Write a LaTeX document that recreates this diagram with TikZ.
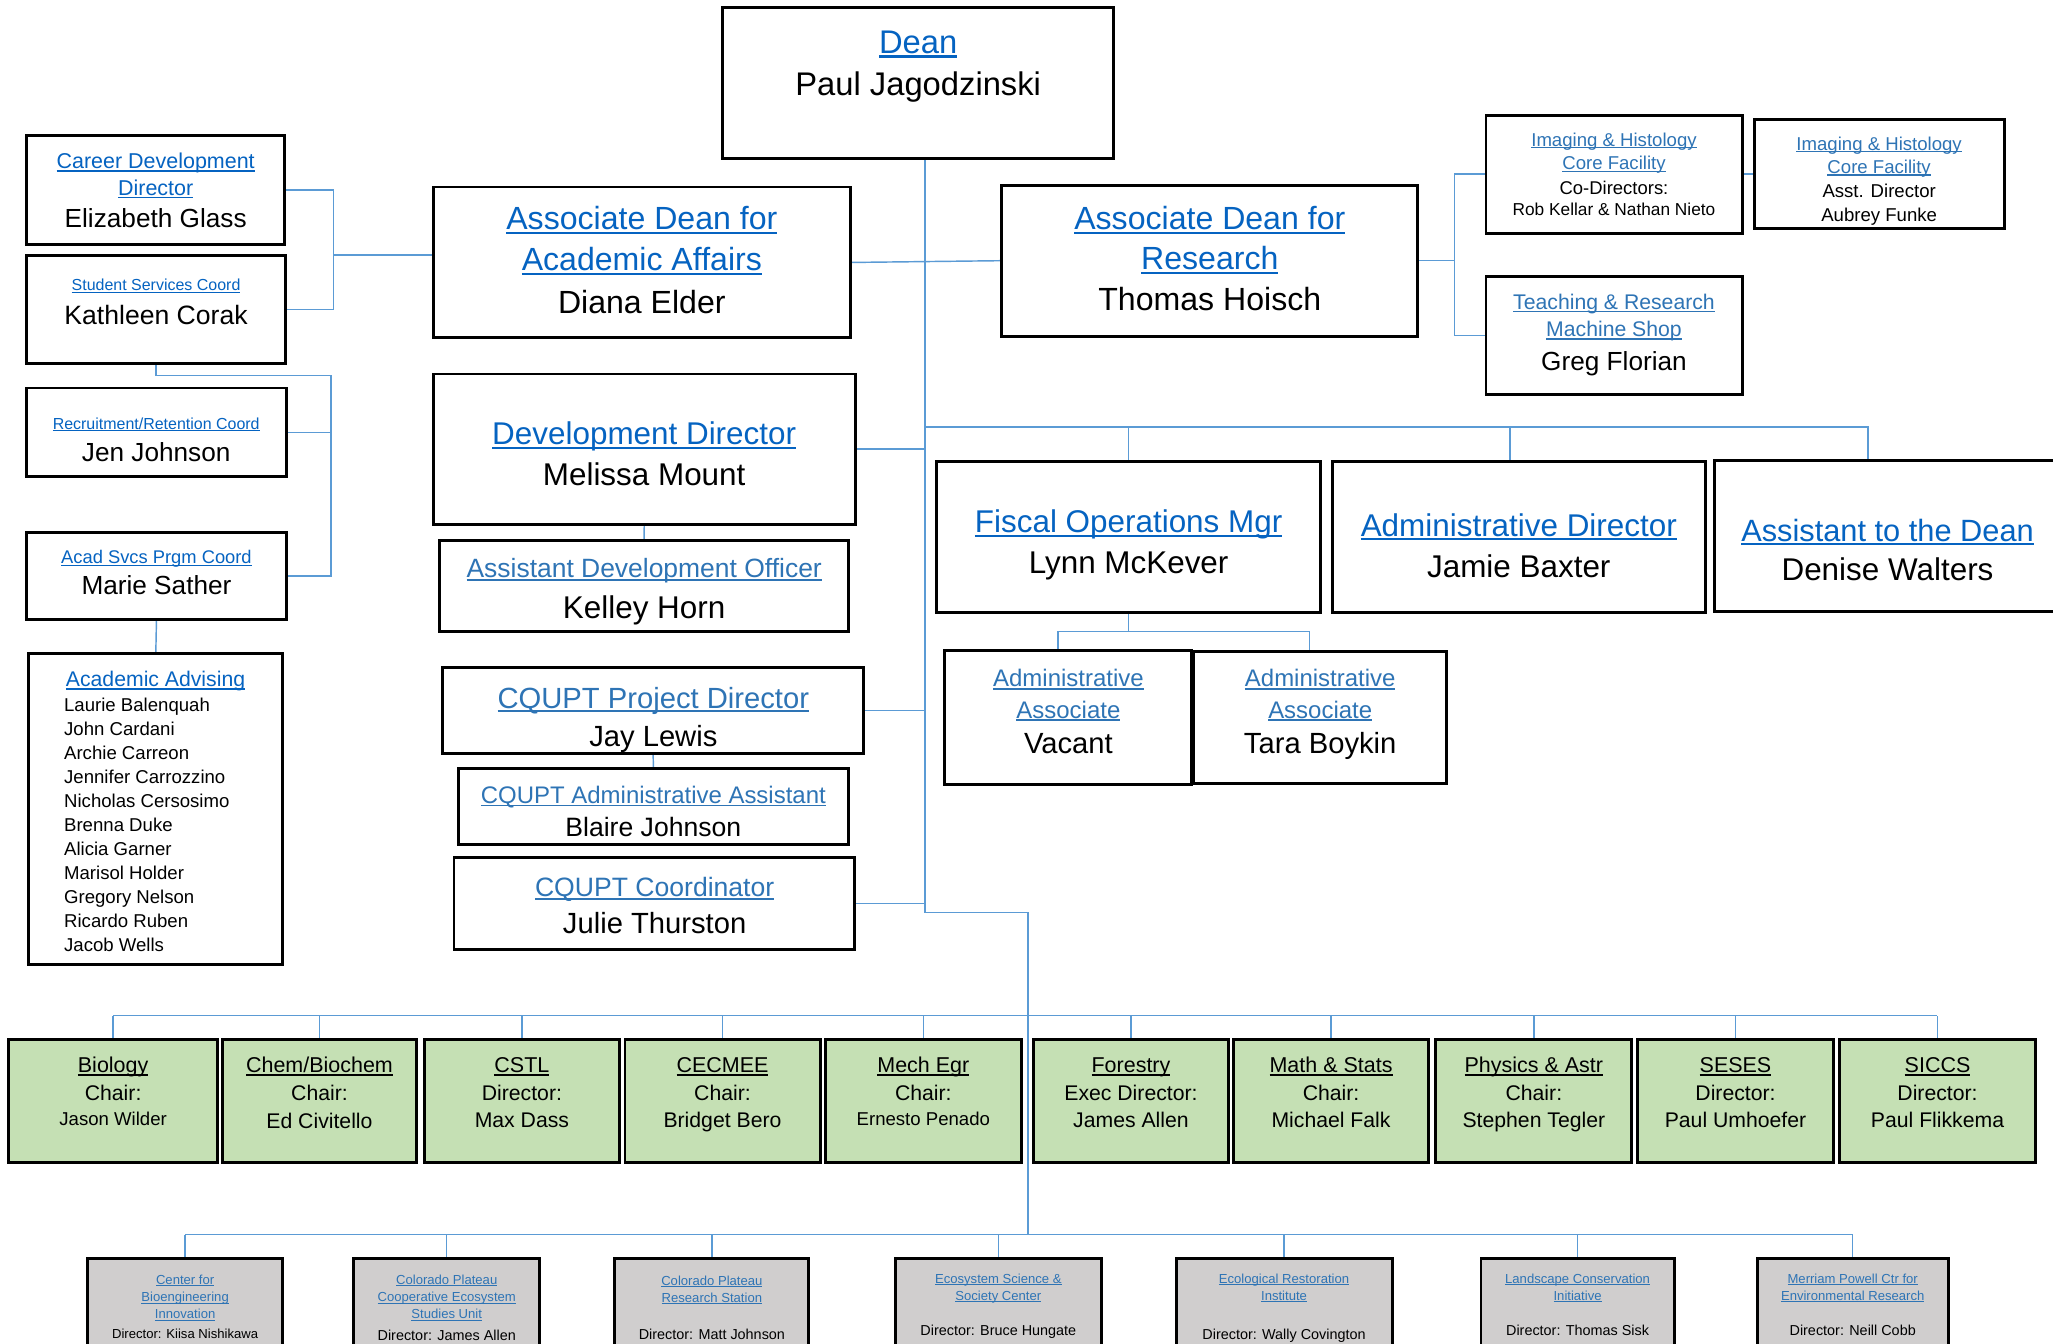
\documentclass[tikz,border=0pt]{standalone}
\usepackage{fontspec}
\setmainfont{Liberation Sans}
\definecolor{lnk}{HTML}{0563C1}
\definecolor{lnkb}{HTML}{2E74B5}
\definecolor{lncol}{HTML}{5B9BD5}
\definecolor{grn}{HTML}{C5E0B4}
\definecolor{gry}{HTML}{D0CECE}
\newcommand\ulx[1]{\setbox0=\hbox{#1}\rlap{\rule[-0.13em]{\wd0}{0.07em}}\box0}
\newcommand\mybox[6]{\node[boxst,#6,minimum width={#4-#2},minimum height={#5-#3}] (#1) at ({(#2+#4)/2},{(#3+#5)/2}) {};}
\newcommand\mytx[6]{\node[txst,#1,font=\fontsize{#5}{#5}\selectfont] (#2) at (#3,{#4+0.36*#5}) {#6};}
\newcommand\dept[5]{%
  \mytx{}{#1t1}{#2}{813.4}{16.4}{\ulx{#3}}
  \mytx{}{#1t2}{#2}{834.6}{16.2}{#4}
  #5}
\tikzset{
  boxst/.style={draw=black, line width=1.5pt, fill=white, inner sep=0pt, rectangle},
  grnbox/.style={fill=grn},
  grybox/.style={fill=gry},
  txst/.style={anchor=base, inner sep=0pt, text=black},
  bl/.style={text=lnk},
  blb/.style={text=lnkb},
  cl/.style={draw=lncol, line width=1.1pt},
}
\begin{document}
\begin{tikzpicture}[x=1pt,y=-1pt]
\useasboundingbox (0,0) rectangle (1568,1026);
\clip (0,0) rectangle (1568,1026);
\fill[white] (0,0) rectangle (1568,1026);

% ---------- boxes ----------
\mybox{dean}{552.4}{6.4}{850.1}{120.4}{}
\mybox{cdd}{20.5}{103.6}{217.2}{186.6}{}
\mybox{ssc}{20.5}{195.5}{217.9}{277.5}{}
\mybox{rrc}{20.5}{296.7}{218.2}{363.9}{}
\mybox{asp}{20.5}{407.2}{218.5}{472.9}{}
\mybox{adv}{22.5}{499.5}{215.5}{736.6}{}
\mybox{aaa}{331.4}{143.2}{648.9}{257.7}{}
\mybox{adr}{765.5}{141.8}{1082.3}{256.4}{}
\mybox{img1}{1135.3}{88.3}{1330.3}{177.7}{}
\mybox{img2}{1340.2}{91.7}{1530.3}{174.4}{}
\mybox{trm}{1135.3}{211.3}{1330.3}{300.9}{}
\mybox{dev}{331.4}{286}{652.7}{400.1}{}
\mybox{ado}{335.8}{413}{648}{482}{}
\mybox{cpd}{338.2}{510}{659.4}{575.2}{}
\mybox{caa}{350.2}{587.5}{648}{644.5}{}
\mybox{cco}{347.1}{655.6}{652.5}{724.9}{}
\mybox{fom}{715.8}{352.9}{1008.1}{467.7}{}
\mybox{adm}{1017.9}{352.6}{1302.2}{467.2}{}
\mybox{atd}{1309.7}{352.1}{1590}{466.7}{}
\mybox{aaone}{722}{497}{909.5}{599}{}
\mybox{aatwo}{911.9}{497.8}{1104.7}{598.2}{}

\mybox{bio}{7.2}{794}{165.7}{887.7}{grnbox}
\mybox{chem}{170}{794}{318}{887.7}{grnbox}
\mybox{cstl}{324.6}{794}{472.6}{887.7}{grnbox}
\mybox{cec}{477.7}{794}{626}{887.7}{grnbox}
\mybox{mech}{631}{794}{779.5}{887.7}{grnbox}
\mybox{fore}{789.4}{794}{938.1}{887.7}{grnbox}
\mybox{math}{942.3}{794}{1091}{887.7}{grnbox}
\mybox{phys}{1097}{794}{1246}{887.7}{grnbox}
\mybox{ses}{1251}{794}{1400}{887.7}{grnbox}
\mybox{sic}{1405.5}{794}{1554}{887.7}{grnbox}

\mybox{cbi}{67.5}{961.6}{215.3}{1045}{grybox}
\mybox{cesu}{270.6}{961.6}{411.7}{1045}{grybox}
\mybox{cprs}{470}{961.6}{617.3}{1045}{grybox}
\mybox{essc}{684.3}{961.6}{840.7}{1045}{grybox}
\mybox{eri}{898.6}{961.6}{1062.8}{1045}{grybox}
\mybox{lci}{1131.5}{961.6}{1278.3}{1045}{grybox}
\mybox{mpc}{1342.4}{961.6}{1487.5}{1045}{grybox}

% ---------- connectors ----------
\coordinate (jL) at (254.7,194.8);
\draw[cl] (cdd.east) -- (cdd.east -| jL) -- (ssc.east -| jL) -- (ssc.east);
\draw[cl] (jL) -- (jL -| aaa.west);
\coordinate (jS) at (252.7,286.9);
\draw[cl] (ssc.south) |- (jS) |- (asp.east);
\draw[cl] (rrc.east) -- (rrc.east -| jS);
\draw[cl] (asp.south) -- (adv.north);

\coordinate (jD) at (706.5,697.1);
\coordinate (jB) at (785,943);
\draw[cl] (dean.south -| jD) -- (jD) -| (jB);
\draw[cl] (aaa.east) -- (adr.west);
\coordinate (jR) at (1110.7,199);
\draw[cl] (adr.east) -- (adr.east -| jR);
\draw[cl] (img1.west) -- (img1.west -| jR) -- (trm.west -| jR) -- (trm.west);
\draw[cl] (img1.east) -- (img1.east -| img2.west);
\draw[cl] (dev.east) -- (dev.east -| jD);
\draw[cl] (dev.south) -- (ado.north);
\draw[cl] (cpd.east) -- (cpd.east -| jD);
\draw[cl] (cpd.south) -- (caa.north);
\draw[cl] (cco.east) -- (cco.east -| jD);

\coordinate (jT) at (706.5,326.2);
\coordinate (jTe) at (1426.8,326.2);
\draw[cl] (jT) -- (jTe) -- (jTe |- atd.north);
\draw[cl] (fom.north) -- (fom.north |- jT);
\draw[cl] ([xshift=-6.7pt]adm.north) -- ([xshift=-6.7pt]adm.north |- jT);

\coordinate (jFa) at (808.2,482.5);
\coordinate (jFb) at (1000.3,482.5);
\draw[cl] (fom.south) -- (fom.south |- jFa);
\draw[cl] (jFa |- aaone.north) -- (jFa) -- (jFb) -- (jFb |- aatwo.north);

\coordinate (jC) at (785,775.7);
\draw[cl] (bio.north |- jC) -- (sic.north |- jC);
\foreach \d in {bio,chem,cstl,cec,mech,fore,math,phys,ses,sic}
  \draw[cl] (\d.north) -- (\d.north |- jC);

\draw[cl] (cbi.north |- jB) -- (mpc.north |- jB);
\foreach \d in {cbi,cesu,cprs,essc,eri,lci,mpc}
  \draw[cl] (\d.north) -- (\d.north |- jB);

% box borders over connectors
\foreach \b in {dean,cdd,ssc,rrc,asp,adv,aaa,adr,img1,img2,trm,dev,ado,cpd,caa,cco,fom,adm,atd,aaone,aatwo,bio,chem,cstl,cec,mech,fore,math,phys,ses,sic,cbi,cesu,cprs,essc,eri,lci,mpc}
  \draw[black, line width=1.5pt] (\b.north west) rectangle (\b.south east);

% ---------- texts ----------
\mytx{bl}{deant}{701.3}{31.8}{25}{\ulx{Dean}}
\mytx{}{deann}{701.3}{63.6}{25}{Paul Jagodzinski}

\mytx{bl}{aaat1}{490.2}{166.8}{24.5}{\ulx{Associate Dean for}}
\mytx{bl}{aaat2}{490.2}{198}{24.5}{\ulx{Academic Affairs}}
\mytx{}{aaan}{490.2}{230.4}{24.5}{Diana Elder}

\mytx{bl}{adrt1}{924}{166.8}{24.5}{\ulx{Associate Dean for}}
\mytx{bl}{adrt2}{924}{197.3}{24.5}{\ulx{Research}}
\mytx{}{adrn}{924}{228.5}{24.5}{Thomas Hoisch}

\mytx{bl}{cddt1}{118.9}{123}{16.4}{\ulx{Career Development}}
\mytx{bl}{cddt2}{118.9}{143.3}{16.4}{\ulx{Director}}
\mytx{}{cddn}{118.9}{166.8}{20}{Elizabeth Glass}

\mytx{bl}{ssct}{119.2}{217.7}{12.2}{\ulx{Student Services Coord}}
\mytx{}{sscn}{119.2}{240.6}{20.3}{Kathleen Corak}

\mytx{bl}{rrct}{119.3}{323.3}{12.2}{\ulx{Recruitment/Retention Coord}}
\mytx{}{rrcn}{119.3}{344.9}{20}{Jen Johnson}

\mytx{bl}{aspt}{119.5}{425.3}{14}{\ulx{Acad Svcs Prgm Coord}}
\mytx{}{aspn}{119.5}{446.6}{20}{Marie Sather}

\mytx{bl}{advt}{118.8}{518.8}{16.2}{\ulx{Academic Advising}}
\foreach \nm [count=\i from 0] in {Laurie Balenquah,John Cardani,Archie Carreon,Jennifer Carrozzino,Nicholas Cersosimo,Brenna Duke,Alicia Garner,Marisol Holder,Gregory Nelson,Ricardo Ruben,Jacob Wells}
  \node[txst,anchor=base west,font=\fontsize{14.2}{14.2}\selectfont] (advn\i) at (48.8,{538.1+18.33*\i+0.36*14.2}) {\nm};

\mytx{blb}{imgat1}{1232.7}{106.4}{14.2}{\ulx{Imaging \& Histology}}
\mytx{blb}{imgat2}{1232.7}{124.7}{14.2}{\ulx{Core Facility}}
\mytx{}{imgan1}{1232.7}{143.1}{14.1}{Co-Directors:}
\mytx{}{imgan2}{1232.7}{159.9}{13.2}{Rob Kellar \& Nathan Nieto}

\mytx{blb}{imgbt1}{1435.2}{109.5}{14.2}{\ulx{Imaging \& Histology}}
\mytx{blb}{imgbt2}{1435.2}{127.3}{14.2}{\ulx{Core Facility}}
\mytx{}{imgbn1}{1435.2}{145.6}{14.2}{Asst. Director}
\mytx{}{imgbn2}{1435.2}{164.2}{14.2}{Aubrey Funke}

\mytx{blb}{trmt1}{1232.7}{230.4}{16.2}{\ulx{Teaching \& Research}}
\mytx{blb}{trmt2}{1232.7}{251.5}{16.2}{\ulx{Machine Shop}}
\mytx{}{trmn}{1232.7}{275.7}{20}{Greg Florian}

\mytx{bl}{devt}{492}{331}{24}{\ulx{Development Director}}
\mytx{}{devn}{492}{362}{24}{Melissa Mount}

\mytx{blb}{adot}{492}{434}{20.2}{\ulx{Assistant Development Officer}}
\mytx{}{adon}{492}{463.6}{24}{Kelley Horn}

\mytx{blb}{cpdt}{499}{532.8}{22.3}{\ulx{CQUPT Project Director}}
\mytx{}{cpdn}{499}{562}{22.3}{Jay Lewis}

\mytx{blb}{caat}{499}{606.8}{18.3}{\ulx{CQUPT Administrative Assistant}}
\mytx{}{caan}{499}{631.3}{20.3}{Blaire Johnson}

\mytx{blb}{ccot}{500}{677.5}{20.3}{\ulx{CQUPT Coordinator}}
\mytx{}{ccon}{500}{704.7}{22.3}{Julie Thurston}

\mytx{bl}{fomt}{862}{398.4}{24}{\ulx{Fiscal Operations Mgr}}
\mytx{}{fomn}{862}{429.5}{24}{Lynn McKever}

\mytx{bl}{admt}{1160}{401}{24}{\ulx{Administrative Director}}
\mytx{}{admn}{1160}{432.8}{24}{Jamie Baxter}

\mytx{bl}{atdt}{1441.6}{404.8}{23.5}{\ulx{Assistant to the Dean}}
\mytx{}{atdn}{1441.6}{434.8}{24}{Denise Walters}

\mytx{blb}{aaonet1}{816}{518.1}{18.3}{\ulx{Administrative}}
\mytx{blb}{aaonet2}{816}{541.8}{18.3}{\ulx{Associate}}
\mytx{}{aaonen}{816}{567.7}{22.3}{Vacant}

\mytx{blb}{aatwot1}{1008.3}{518.1}{18.3}{\ulx{Administrative}}
\mytx{blb}{aatwot2}{1008.3}{541.8}{18.3}{\ulx{Associate}}
\mytx{}{aatwon}{1008.3}{567.7}{22.3}{Tara Boykin}

% departments
\dept{bio}{86.4}{Biology}{Chair:}{\mytx{}{bion}{86.4}{854.2}{14.2}{Jason Wilder}}
\dept{chem}{244}{Chem/Biochem}{Chair:}{\mytx{}{chemn}{244}{856}{16.2}{Ed Civitello}}
\dept{cstl}{398.6}{CSTL}{Director:}{\mytx{}{cstln}{398.6}{855}{16.2}{Max Dass}}
\dept{cec}{551.8}{CECMEE}{Chair:}{\mytx{}{cecn}{551.8}{855}{16.2}{Bridget Bero}}
\dept{mech}{705.2}{Mech Egr}{Chair:}{\mytx{}{mechn}{705.2}{854.2}{14.2}{Ernesto Penado}}
\dept{fore}{863.8}{Forestry}{Exec Director:}{\mytx{}{foren}{863.8}{855}{16.2}{James Allen}}
\dept{math}{1016.6}{Math \& Stats}{Chair:}{\mytx{}{mathn}{1016.6}{855}{16.2}{Michael Falk}}
\dept{phys}{1171.5}{Physics \& Astr}{Chair:}{\mytx{}{physn}{1171.5}{855}{16.2}{Stephen Tegler}}
\dept{ses}{1325.5}{SESES}{Director:}{\mytx{}{sesn}{1325.5}{855}{16.2}{Paul Umhoefer}}
\dept{sic}{1479.8}{SICCS}{Director:}{\mytx{}{sicn}{1479.8}{855}{16.2}{Paul Flikkema}}

% centers
\mytx{blb}{cbit1}{141.4}{977.1}{10}{\ulx{Center for}}
\mytx{blb}{cbit2}{141.4}{990.6}{10}{\ulx{Bioengineering}}
\mytx{blb}{cbit3}{141.4}{1003.6}{10}{\ulx{Innovation}}
\mytx{}{cbin}{141.4}{1018.9}{10}{Director: Kiisa Nishikawa}

\mytx{blb}{cesut1}{341.2}{977.1}{10}{\ulx{Colorado Plateau}}
\mytx{blb}{cesut2}{341.2}{990.6}{10}{\ulx{Cooperative Ecosystem}}
\mytx{blb}{cesut3}{341.2}{1003.6}{10}{\ulx{Studies Unit}}
\mytx{}{cesun}{341.2}{1019.6}{11}{Director: James Allen}

\mytx{blb}{cprst1}{543.7}{978.1}{10}{\ulx{Colorado Plateau}}
\mytx{blb}{cprst2}{543.7}{991.1}{10}{\ulx{Research Station}}
\mytx{}{cprsn}{543.7}{1018.9}{11}{Director: Matt Johnson}

\mytx{blb}{nessct1}{762.5}{976.6}{10}{\ulx{Ecosystem Science \&}}
\mytx{blb}{nessct2}{762.5}{989.8}{10}{\ulx{Society Center}}
\mytx{}{esscn}{762.5}{1016.3}{11}{Director: Bruce Hungate}

\mytx{blb}{erit1}{980.7}{976.6}{10}{\ulx{Ecological Restoration}}
\mytx{blb}{erit2}{980.7}{989.8}{10}{\ulx{Institute}}
\mytx{}{erin}{980.7}{1018.9}{11}{Director: Wally Covington}

\mytx{blb}{lcit1}{1204.9}{976.6}{10}{\ulx{Landscape Conservation}}
\mytx{blb}{lcit2}{1204.9}{989.8}{10}{\ulx{Initiative}}
\mytx{}{lcin}{1204.9}{1016.3}{11}{Director: Thomas Sisk}

\mytx{blb}{mpct1}{1415}{976.6}{10}{\ulx{Merriam Powell Ctr for}}
\mytx{blb}{mpct2}{1415}{989.8}{10}{\ulx{Environmental Research}}
\mytx{}{mpcn}{1415}{1015.8}{11}{Director: Neill Cobb}
\end{tikzpicture}
\end{document}
